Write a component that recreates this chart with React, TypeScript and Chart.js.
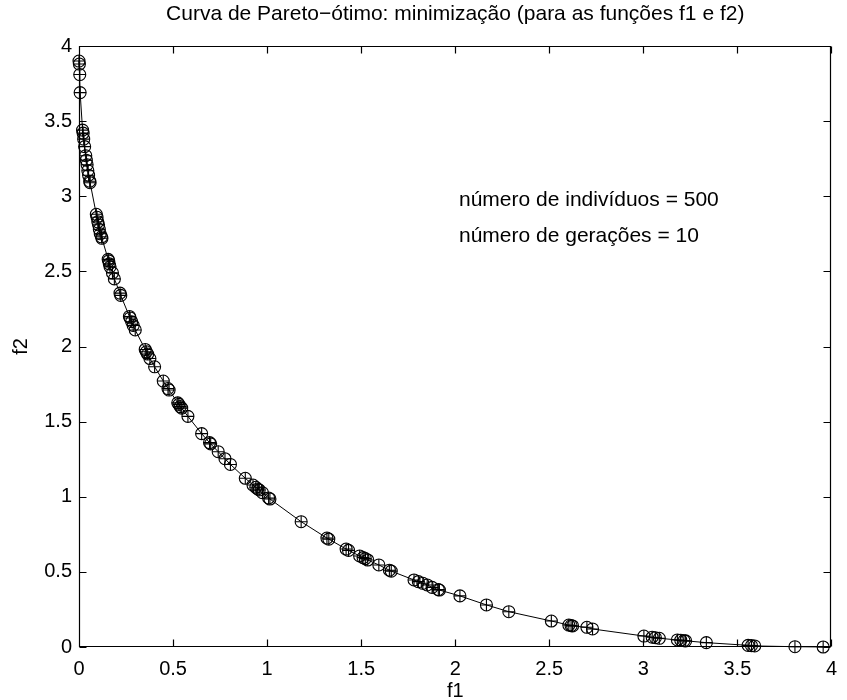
import React, { useEffect, useRef } from 'react';
import { Chart, registerables } from 'chart.js';

Chart.register(...registerables);

// Pareto front samples (f1, f2)
const f1Values = [
  0.000, 0.002, 0.004, 0.006,
  0.019, 0.022, 0.025, 0.030, 0.036, 0.039, 0.043, 0.047, 0.051, 0.057, 0.059,
  0.092, 0.096, 0.100, 0.104, 0.108, 0.113, 0.120, 0.122,
  0.155, 0.158, 0.161, 0.165, 0.178, 0.188,
  0.218, 0.222,
  0.268, 0.272, 0.280, 0.288, 0.299,
  0.352, 0.358, 0.365, 0.377, 0.402,
  0.448, 0.473, 0.479,
  0.525, 0.531, 0.538, 0.546, 0.579,
  0.652, 0.694, 0.700, 0.740, 0.776, 0.805,
  0.884, 0.925, 0.940, 0.950, 0.958, 0.975, 1.008, 1.015,
  1.181,
  1.318, 1.328,
  1.420, 1.433,
  1.492, 1.510, 1.522, 1.535,
  1.594,
  1.650, 1.660,
  1.781, 1.804, 1.828, 1.851, 1.877, 1.910, 1.916,
  2.025,
  2.166, 2.285,
  2.511, 2.604, 2.616, 2.624, 2.700, 2.730,
  3.003, 3.047, 3.064, 3.085,
  3.181, 3.199, 3.216, 3.225,
  3.335,
  3.557, 3.575, 3.592,
  3.806, 3.956,
];
const f2Values = [
  3.900, 3.880, 3.810, 3.690,
  3.440, 3.420, 3.380, 3.330, 3.270, 3.240, 3.210, 3.170, 3.140, 3.100, 3.090,
  2.880, 2.860, 2.830, 2.810, 2.780, 2.750, 2.730, 2.720,
  2.580, 2.570, 2.550, 2.530, 2.490, 2.450,
  2.355, 2.340,
  2.200, 2.190, 2.165, 2.140, 2.110,
  1.980, 1.965, 1.950, 1.920, 1.865,
  1.770, 1.720, 1.710,
  1.625, 1.615, 1.600, 1.590, 1.535,
  1.420, 1.360, 1.352, 1.300, 1.253, 1.215,
  1.123, 1.078, 1.063, 1.052, 1.045, 1.027, 0.992, 0.985,
  0.834,
  0.725, 0.718,
  0.652, 0.643,
  0.606, 0.595, 0.588, 0.579,
  0.546,
  0.511, 0.505,
  0.446, 0.435, 0.424, 0.413, 0.397, 0.382, 0.379,
  0.340,
  0.280, 0.235,
  0.173, 0.146, 0.142, 0.140, 0.131, 0.120,
  0.073, 0.065, 0.062, 0.058,
  0.047, 0.045, 0.042, 0.041,
  0.029,
  0.011, 0.009, 0.007,
  0.002, 0.000,
];

const axisMin = 0;
const axisMax = 4;
const tickStep = 0.5;
const tickLabels = ['0', '0.5', '1', '1.5', '2', '2.5', '3', '3.5', '4'];

const titleText = 'Curva de Pareto\u2212ótimo: minimização (para as funções f1 e f2)';
const annotationLines = ['número de indivíduos = 500', 'número de gerações = 10'];
const xAxisLabel = 'f1';
const yAxisLabel = 'f2';

const FONT = "'Liberation Sans', Arial, Helvetica, sans-serif";

const labelFor = (v: any) => {
  const idx = Math.round((Number(v) - axisMin) / tickStep);
  return tickLabels[idx] ?? String(v);
};

export default function App() {
  const ref = useRef<HTMLCanvasElement | null>(null);

  useEffect(() => {
    if (!ref.current) return;
    const points = f1Values.map((x, i) => ({ x, y: f2Values[i] }));

    const framePlugin = {
      id: 'matlabFrame',
      afterDraw(chart: any) {
        const { ctx, chartArea } = chart;
        const xs = chart.scales.x;
        const ys = chart.scales.y;
        const L = Math.round(chartArea.left) + 0.5;
        const R = Math.round(chartArea.right) - 0.5;
        const T = Math.round(chartArea.top) + 0.5;
        const B = Math.round(chartArea.bottom) - 0.5;
        const tl = 7;
        ctx.save();
        ctx.strokeStyle = '#000';
        ctx.lineWidth = 1.2;
        ctx.beginPath();
        ctx.rect(L, T, R - L, B - T);
        xs.ticks.forEach((t: any) => {
          const px = Math.round(xs.getPixelForValue(t.value)) + 0.5;
          ctx.moveTo(px, B);
          ctx.lineTo(px, B - tl);
          ctx.moveTo(px, T);
          ctx.lineTo(px, T + tl);
        });
        ys.ticks.forEach((t: any) => {
          const py = Math.round(ys.getPixelForValue(t.value)) + 0.5;
          ctx.moveTo(L, py);
          ctx.lineTo(L + tl, py);
          ctx.moveTo(R, py);
          ctx.lineTo(R - tl, py);
        });
        ctx.stroke();

        ctx.fillStyle = '#000';
        ctx.font = `21px ${FONT}`;
        ctx.textAlign = 'center';
        ctx.textBaseline = 'alphabetic';
        ctx.fillText(titleText, (chartArea.left + chartArea.right) / 2, 20);

        ctx.textAlign = 'left';
        ctx.fillText(annotationLines[0], 459, 206);
        ctx.fillText(annotationLines[1], 459, 241.5);
        ctx.restore();
      },
    };

    const tickFont = { family: FONT, size: 20 };

    const chart = new Chart(ref.current, {
      type: 'scatter',
      data: {
        datasets: [
          {
            data: points,
            showLine: true,
            borderColor: '#000',
            borderWidth: 1,
            pointStyle: 'circle',
            pointRadius: 6,
            pointHoverRadius: 6,
            pointBorderWidth: 1.1,
            pointBorderColor: '#000',
            pointBackgroundColor: 'rgba(0,0,0,0)',
            tension: 0,
            clip: false as any,
          },
          {
            data: points,
            showLine: false,
            pointStyle: 'cross',
            pointRadius: 6,
            pointHoverRadius: 6,
            pointBorderWidth: 1.1,
            pointBorderColor: '#000',
            pointBackgroundColor: '#000',
            clip: false as any,
          },
        ],
      },
      options: {
        animation: false,
        responsive: false,
        maintainAspectRatio: false,
        events: [],
        layout: { padding: { top: 46, right: 6, bottom: 0, left: 0 } },
        plugins: {
          legend: { display: false },
          tooltip: { enabled: false },
          title: { display: false },
        },
        scales: {
          x: {
            type: 'linear',
            min: axisMin,
            max: axisMax,
            afterFit: (s: any) => { s.height = 53; },
            grid: { display: false, drawTicks: false },
            border: { display: false },
            ticks: {
              stepSize: tickStep,
              color: '#000',
              font: tickFont,
              padding: 10,
              maxRotation: 0,
              autoSkip: false,
              callback: (v: any) => labelFor(v),
            },
            title: {
              display: true,
              text: xAxisLabel,
              color: '#000',
              font: { family: FONT, size: 20 },
              padding: { top: 0, bottom: -3 },
            },
          },
          y: {
            type: 'linear',
            min: axisMin,
            max: axisMax,
            afterFit: (s: any) => { s.width = 79; },
            grid: { display: false, drawTicks: false },
            border: { display: false },
            ticks: {
              stepSize: tickStep,
              color: '#000',
              font: tickFont,
              padding: 7,
              autoSkip: false,
              callback: (v: any) => labelFor(v),
            },
            title: {
              display: true,
              text: yAxisLabel,
              color: '#000',
              font: { family: FONT, size: 20 },
              padding: { top: 9, bottom: 0 },
            },
          },
        },
      },
      plugins: [framePlugin],
    });

    return () => chart.destroy();
  }, []);

  return (
    <div style={{ position: 'absolute', left: 0, top: 0, width: 847, height: 700, background: '#fff' }}>
      <canvas ref={ref} width={847} height={700} style={{ display: 'block', width: 847, height: 700 }} />
    </div>
  );
}
